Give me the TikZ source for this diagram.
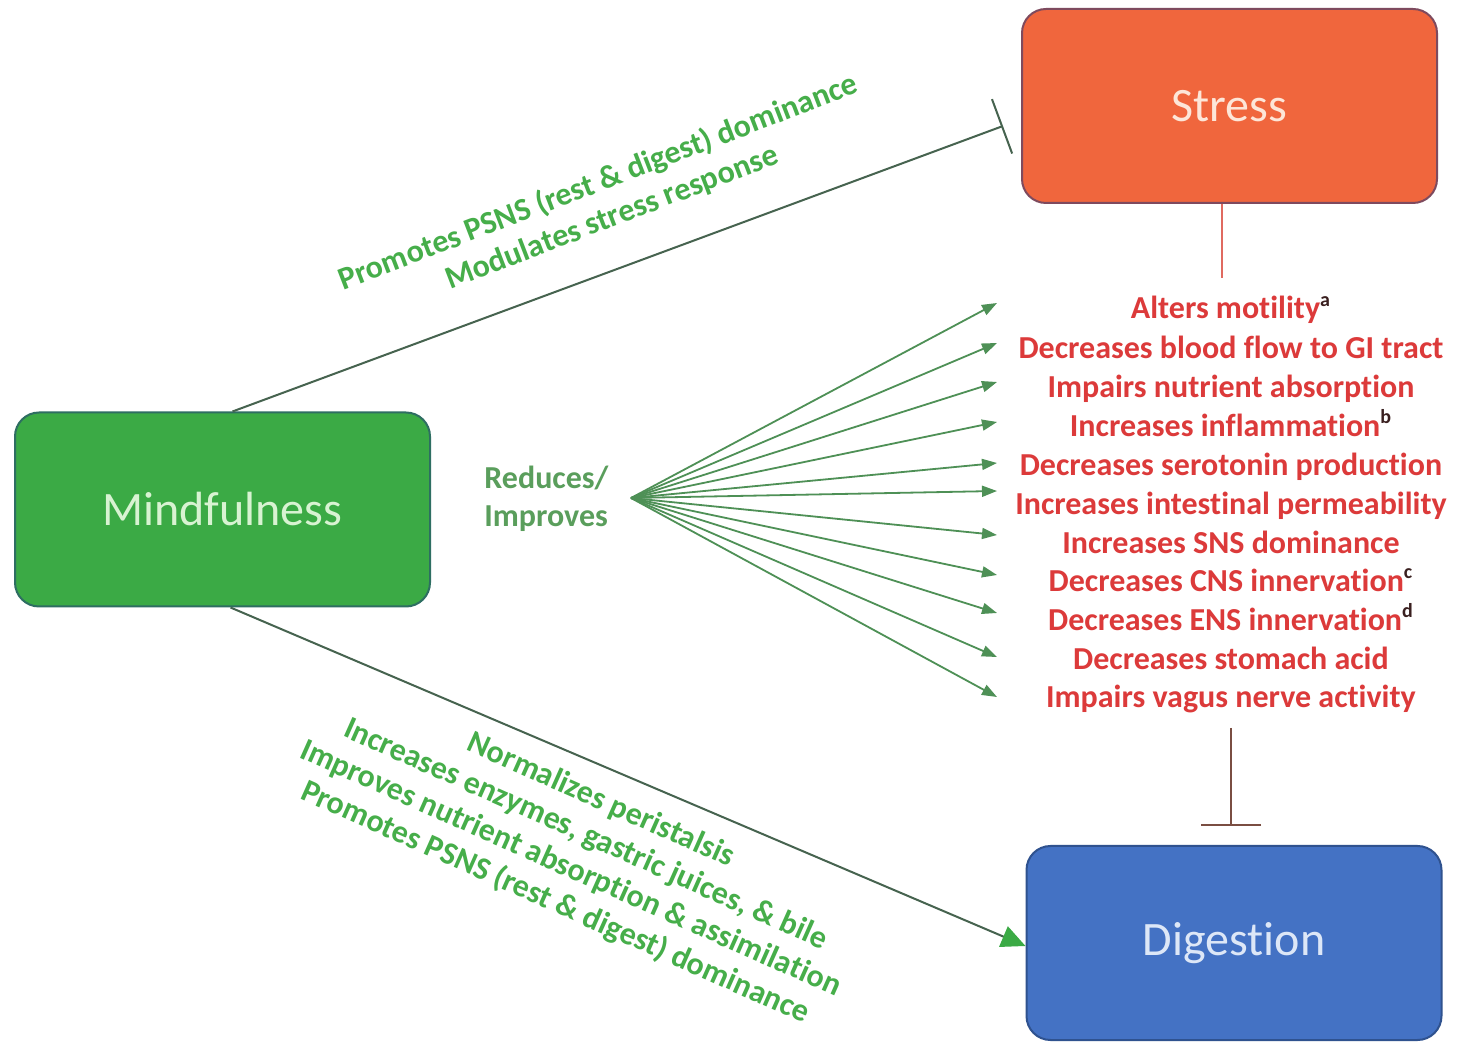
\documentclass[tikz,border=0pt]{standalone}
\usepackage{fontspec}
\setmainfont{Carlito}[RawFeature={-liga}]
\usetikzlibrary{arrows.meta,calc}
\definecolor{stressfill}{HTML}{F0663D}
\definecolor{stressdraw}{HTML}{7E4A5E}
\definecolor{stresstext}{HTML}{FDE6D8}
\definecolor{mindfill}{HTML}{3BAA45}
\definecolor{minddraw}{HTML}{2E6E62}
\definecolor{mindtext}{HTML}{D8F3D2}
\definecolor{digfill}{HTML}{4472C4}
\definecolor{digdraw}{HTML}{2F528F}
\definecolor{digtext}{HTML}{DDE7F7}
\definecolor{redtxt}{HTML}{DC3A3A}
\definecolor{suptxt}{HTML}{3A2020}
\definecolor{greentxt}{HTML}{46AE4A}
\definecolor{reducetxt}{HTML}{5A9E5C}
\definecolor{fanline}{HTML}{4E9056}
\definecolor{darkline}{HTML}{46634F}
\definecolor{redline}{HTML}{E06A60}
\definecolor{brownline}{HTML}{7A4E42}
\newcommand{\supmark}[1]{\textsuperscript{\textcolor{suptxt}{\fontsize{10}{10}\selectfont #1}}}
\begin{document}
\begin{tikzpicture}[x=0.5pt,y=-0.5pt,
  box/.style={rounded corners=12pt, minimum width=207.5pt, minimum height=97pt,
    line width=1pt, inner sep=0pt, font=\fontsize{24}{28}\selectfont},
  effect/.style={anchor=base, text=redtxt, inner sep=0pt,
    font=\bfseries\fontsize{16}{19}\selectfont},
  glabel/.style={text=greentxt, align=center, inner sep=0pt,
    font=\bfseries\fontsize{16}{18.7}\selectfont},
  fanarrow/.style={draw=fanline, line width=0.9pt, -{Triangle[length=7.5pt,width=5.5pt]}},
  inhibit/.style={line width=1pt, -{Bar[width=29pt]}},
]
\useasboundingbox (0,0) rectangle (1458,1042);
\fill[white] (0,0) rectangle (1458,1042);

% boxes
\node[box, fill=stressfill, draw=stressdraw, text=stresstext] (stress) at (1229.5,106) {Stress};
\node[box, fill=mindfill, draw=minddraw, text=mindtext] (mind) at (222.5,509.5) {Mindfulness};
\node[box, fill=digfill, draw=digdraw, text=digtext] (dig) at (1234,943) {Digestion};

% effects list
\node[effect] (l1) at (1231,319) {Alters motility\supmark{a}};
\node[effect] (l2) at (1231,358.5) {Decreases blood flow to GI tract};
\node[effect] (l3) at (1231,397.5) {Impairs nutrient absorption};
\node[effect] (l4) at (1231,436.5) {Increases inflammation\supmark{b}};
\node[effect] (l5) at (1231,475.5) {Decreases serotonin production};
\node[effect] (l6) at (1231,514.5) {Increases intestinal permeability};
\node[effect] (l7) at (1231,553.5) {Increases SNS dominance};
\node[effect] (l8) at (1231,591.5) {Decreases CNS innervation\supmark{c}};
\node[effect] (l9) at (1231,630.5) {Decreases ENS innervation\supmark{d}};
\node[effect] (l10) at (1231,669.5) {Decreases stomach acid};
\node[effect] (l11) at (1231,707.5) {Impairs vagus nerve activity};

% labels
\node[glabel, rotate=21] (toplab) at (605,200)
  {Promotes PSNS (rest \& digest) dominance\\Modulates stress response};
\node[glabel, rotate=-24] (botlab) at (578,852)
  {Normalizes peristalsis\\Increases enzymes, gastric juices, \& bile\\Improves nutrient absorption \& assimilation\\Promotes PSNS (rest \& digest) dominance};
\node[anchor=west, align=left, inner sep=0pt, text=reducetxt,
  font=\bfseries\fontsize{16}{19}\selectfont] (reduce) at (484,499) {Reduces/\\Improves};

% fan of arrows
\coordinate (fan) at (631,498);
\foreach \i/\y in {1/303,2/343,3/382,4/422,5/463,6/491,7/535,8/575,9/613,10/657,11/697}{
  \coordinate (t\i) at (997,\y);
  \draw[fanarrow] (fan) -- (t\i);
}

% connectors
\coordinate (sbar) at (1003,126);
\draw[inhibit, draw=darkline] ([xshift=5pt]mind.north) -- (sbar);

\coordinate (sl) at (1222,278);
\draw[draw=redline, line width=1.2pt] ([xshift=-3.75pt]stress.south) -- (sl);

\coordinate (lb) at (1231,728);
\coordinate (dbar) at (1231,826);
\draw[draw=brownline, line width=1pt, -{Bar[width=30pt]}] (lb) -- (dbar);

\draw[draw=darkline, line width=1pt, -{Triangle[length=12pt,width=11pt,color=mindfill]}]
  ([xshift=4pt]mind.south) -- ([yshift=-1.5pt]dig.west);
\end{tikzpicture}
\end{document}
